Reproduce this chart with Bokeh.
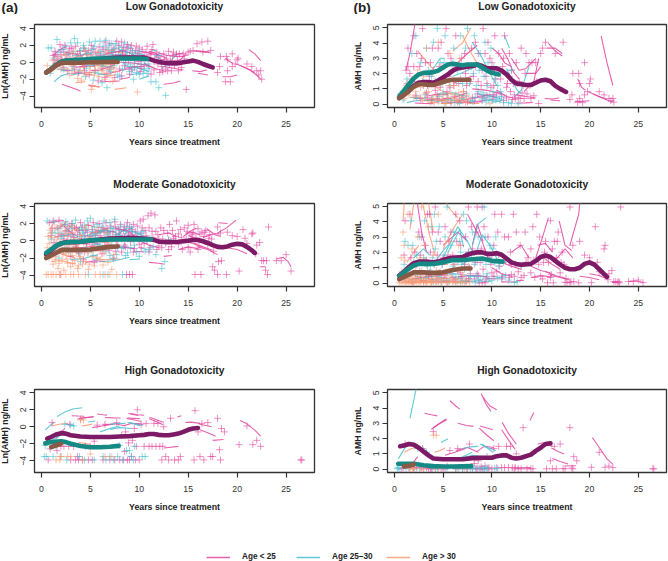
import math
from bokeh.embed import file_html
from bokeh.resources import INLINE
from bokeh.plotting import figure
from bokeh.layouts import column, row
from bokeh.models import FixedTicker, Legend, LegendItem
from bokeh.core.properties import value

PINK = "#e2459f"; CYAN = "#45c0d0"; SALMON = "#fb9a72"
PURPLE = "#7c1a66"; TEAL = "#158a84"; BROWN = "#8b5a47"
AXC = "#333333"
FONT = "Liberation Sans"

X_TICKS = [0, 5, 10, 15, 20, 25]
LN_TICKS = [-4, -2, 0, 2, 4]
AMH_TICKS = [0, 1, 2, 3, 4, 5]
ROW_TITLES = ["Low Gonadotoxicity", "Moderate Gonadotoxicity", "High Gonadotoxicity"]
LEGEND_LABELS = ["Age < 25", "Age 25\u201330", "Age > 30"]

low_young_pts = [(1.2,0.8),(1.3,0.3),(1.4,1.3),(1.5,-0.1),(1.6,0.7),(1.9,2.1),(2.0,1.5),(2.1,0.4),(2.2,-0.6),(2.3,1.2),(2.4,2.0),(2.6,0.9),(2.7,-1.0),(2.9,1.6),(3.0,0.2),(3.2,1.0),(3.3,-0.3),(3.5,1.9),(3.6,0.6),(3.8,-1.2),(3.9,1.3),(4.1,0.3),(4.3,1.7),(4.4,-0.5),(4.6,0.9),(4.8,1.4),(4.9,-1.5),(5.1,2.0),(5.2,0.5),(5.4,-0.2),(5.5,1.2),(5.7,0.1),(5.8,-2.2),(5.9,1.8),(6.0,0.8),(6.2,-0.7),(6.3,1.5),(6.5,2.4),(6.6,0.3),(6.7,-1.3),(6.9,1.1),(7.0,2.2),(7.1,-0.2),(7.3,0.7),(7.4,1.7),(7.5,-1.8),(7.7,2.5),(7.8,0.4),(7.9,1.3),(8.0,-0.8),(8.2,2.4),(8.3,0.9),(8.4,1.8),(8.5,-0.4),(8.6,1.2),(8.8,2.1),(8.9,0.2),(9.0,-1.4),(9.1,1.6),(9.2,2.0),(9.4,0.6),(9.5,-0.6),(9.6,1.4),(9.7,1.9),(9.9,0.1),(10.0,1.0),(10.1,-1.1),(10.3,1.5),(10.4,0.5),(10.5,-0.3),(10.7,1.2),(10.8,1.9),(11.0,-0.5),(11.1,0.9),(11.3,1.5),(11.4,2.1),(11.5,-0.9),(11.6,0.3),(11.8,1.2),(11.9,-0.2),(12.0,0.8),(12.1,-1.2),(12.3,-0.5),(12.4,-1.1),(12.6,0.3),(12.7,-0.8),(12.9,-1.0),(13.0,1.3),(13.1,-0.3),(13.3,-1.0),(13.5,1.2),(13.6,-0.4),(13.8,1.0),(14.0,-1.0),(14.1,1.0),(14.5,1.0),(14.8,-3.2),(15.0,1.2),(15.2,1.3),(15.5,1.4),(15.9,2.2),(16.4,2.4),(16.5,1.2),(17.0,2.5),(17.3,1.4),(18.0,-1.2),(18.2,-0.5),(18.3,0.7),(18.8,-2.3),(18.9,0.7),(19.0,-1.0),(19.0,0.3),(19.3,-2.3),(19.5,-0.5),(19.5,1.0),(19.8,-0.2),(20.0,0.3),(20.1,0.5),(21.0,-0.2),(21.5,-0.5),(22.0,-1.0),(22.2,-1.5),(22.4,-1.0),(22.5,-2.0),
 (1.4,0.9),(1.7,0.2),(2.0,0.9),(2.5,0.3),(2.8,1.1),(3.1,1.7),(3.4,0.2),(3.7,1.0),(4.0,0.8),(4.2,-0.1),(4.5,1.3),(4.7,0.1),(5.0,0.9),(5.3,1.6),(5.6,0.6),(5.8,1.1),(6.1,0.2),(6.4,0.9),(6.6,1.7),(6.8,0.5),(7.2,1.2),(7.4,0.2),(7.6,0.9),(7.9,2.0),(8.1,0.6),(8.3,1.4),(8.6,0.4),(8.7,1.7),(9.0,0.8),(9.3,1.2),(9.5,0.3),(9.8,1.1),(10.0,1.7),(10.2,0.2),(10.5,0.8),(10.9,0.5),(11.2,1.1),(11.5,0.1),(11.8,0.6),(12.2,0.3),(12.5,1.0),(12.8,0.4),(13.2,0.2),(13.4,0.7),(13.9,0.2),(14.3,-0.6),(14.6,0.4),(5.5,-1.0),(6.5,-1.8),(7.0,-0.8),(8.2,-1.6),(9.2,-0.9),(10.2,-0.7),(11.2,-1.4),(3.4,-0.8),(4.4,-1.0)]
low_mid_pts = [(0.7,1.7),(1.0,1.7),(1.6,2.7),(0.9,-1.3),(1.8,1.2),(2.0,0.3),(2.3,-0.8),(2.5,1.9),(2.7,1.0),(3.0,2.3),(3.2,-0.5),(3.4,2.8),(3.5,0.8),(3.7,2.3),(3.9,-1.0),(4.0,1.4),(4.2,0.4),(4.3,2.0),(4.5,-1.7),(4.7,1.0),(4.9,2.4),(5.0,-0.3),(5.2,1.5),(5.3,-2.1),(5.5,2.5),(5.6,0.7),(5.8,-1.3),(6.0,2.5),(6.1,1.3),(6.2,-2.4),(6.4,0.4),(6.6,2.6),(6.8,1.5),(6.9,-0.9),(6.7,-3.0),(7.1,0.9),(7.2,2.2),(7.4,-0.4),(7.5,1.6),(7.7,0.3),(7.8,-1.5),(8.0,1.8),(8.1,0.7),(8.3,-0.8),(8.5,2.3),(8.6,-0.2),(8.8,1.2),(9.0,-1.1),(9.2,0.6),(9.4,-2.0),(9.6,1.0),(9.8,-0.6),(10.0,-1.4),(10.2,0.9),(10.4,-1.3),(10.6,0.2),(10.8,-1.3),(11.0,-0.7),(11.2,-2.3),(11.7,-2.3),(12.0,-3.0),(12.7,-3.9),(12.0,0.8),
 (1.3,0.5),(2.2,1.5),(2.9,0.4),(3.3,1.3),(3.8,0.6),(4.4,1.6),(4.9,0.3),(5.1,1.0),(5.4,1.9),(5.7,0.2),(6.0,1.0),(6.3,1.9),(6.5,0.8),(6.9,2.0),(7.0,0.3),(7.3,1.3),(7.6,2.2),(7.9,0.9),(8.2,1.5),(8.4,0.2),(8.7,0.8),(8.9,1.8),(9.1,-0.3),(9.3,1.4),(9.5,0.2),(9.7,-1.2),(9.9,1.3),(10.1,-0.2),(10.3,0.5),(10.5,-0.8),(10.9,-0.2),(4.6,-0.7),(5.4,-1.2),(6.3,-0.5),(7.1,-1.1),(8.0,-1.7),(9.3,-0.8)]
low_old_pts = [(0.6,-0.4),(1.0,-1.0),(1.5,-0.5),(1.8,0.5),(2.0,-0.8),(2.4,0.8),(2.6,-0.8),(2.9,-1.5),(3.0,0.6),(3.3,1.3),(3.5,-0.2),(3.7,-1.9),(3.9,0.7),(4.1,-2.1),(4.3,-0.6),(4.5,1.4),(4.7,0.3),(4.9,-1.2),(5.1,-3.2),(5.2,-2.8),(5.3,0.6),(5.5,-0.9),(5.7,1.2),(5.9,-1.7),(6.1,0.2),(6.3,-0.6),(6.5,-2.0),(6.7,1.1),(6.9,-0.8),(7.1,-0.2),(7.3,-2.2),(7.5,0.4),(7.6,-1.1),(9.8,-3.5),(2.2,-0.2),(3.1,-0.4),(4.0,-1.0),(4.8,0.9),(5.6,0.2),(6.4,-1.3),
 (1.2,0.2),(2.7,0.1),(3.4,-1.1),(4.2,0.2),(4.6,-1.4),(5.0,-0.5),(5.4,-1.5),(5.8,-0.4),(6.2,-1.0),(6.6,-0.3),(7.0,-1.5),(7.4,-0.6)]
mod_young_pts = [(0.8,2.1),(1.0,0.6),(1.2,2.3),(1.4,-0.8),(1.6,1.5),(1.8,2.4),(1.9,-3.9),(2.1,0.7),(2.2,-1.2),(2.4,1.9),(2.6,-0.3),(2.8,1.1),(3.0,-1.8),(3.1,2.0),(3.3,0.4),(3.5,-0.7),(3.6,1.5),(3.8,-1.4),(4.0,2.1),(4.1,0.2),(4.3,-2.2),(4.5,1.2),(4.6,-0.4),(4.8,1.8),(5.0,0.5),(5.1,-1.0),(5.3,2.1),(5.4,-2.5),(5.6,1.0),(5.7,-0.3),(5.9,2.0),(6.0,0.6),(6.2,-1.5),(6.3,1.5),(6.5,-0.2),(6.6,2.1),(6.8,0.9),(6.9,-1.1),(7.1,1.7),(7.2,0.2),(7.4,-2.0),(7.5,2.2),(7.6,0.7),(7.8,-0.5),(7.9,1.3),(8.1,1.9),(8.2,-1.3),(8.3,0.3),(8.5,1.6),(8.6,-0.7),(8.7,-3.9),(8.8,2.1),(8.9,0.8),(9.0,-3.9),(9.1,-0.1),(9.2,1.3),(9.3,-3.9),(9.4,1.9),(9.5,-0.9),(9.7,0.5),(9.8,1.7),(10.0,-0.4),(10.1,2.3),(10.2,0.9),(10.4,2.5),(10.5,-0.3),(10.7,0.6),(10.9,2.9),(11.0,1.5),(11.1,-0.8),(11.2,3.2),(11.4,0.4),(11.6,3.0),(11.7,1.1),(11.8,-1.0),(12.0,0.2),(12.2,1.5),(12.3,-0.8),(12.5,1.2),(12.7,-0.3),(12.9,0.9),(13.1,1.9),(13.3,-0.7),(13.5,0.3),(13.8,2.3),(14.0,0.8),(14.2,1.3),(14.4,-1.0),(14.6,1.5),(14.8,0.2),(15.0,1.8),(15.2,-1.3),(15.4,0.7),(15.6,1.9),(15.7,-3.9),(15.8,0.3),(16.0,1.4),(16.1,-0.6),(16.3,-3.9),(16.4,1.0),(16.6,0.5),(16.8,1.2),(17.0,-0.4),(17.2,0.7),(17.4,0.2),(17.5,-3.0),(17.6,-1.2),(17.7,-3.4),(18.0,-3.9),(18.1,-2.4),(18.3,0.9),(18.4,-2.3),(18.9,-3.9),(19.0,1.0),(19.5,0.6),(20.0,0.5),(20.2,-3.5),(20.6,1.3),(20.8,0.3),(21.0,-0.3),(21.5,0.8),(21.6,0.9),(21.9,-1.5),(22.0,-0.5),(22.3,-0.2),(22.5,-2.3),(22.7,-2.3),(22.9,-3.4),(23.0,-2.3),(23.1,-3.9),(23.2,1.6),(24.0,-2.3),(24.5,-2.3),(25.0,-1.6),(25.5,-3.5),
 (1.1,1.4),(1.3,-0.2),(1.7,0.5),(2.0,1.7),(2.3,0.2),(2.5,1.2),(2.7,0.6),(2.9,1.7),(3.2,0.9),(3.4,1.5),(3.7,0.7),(3.9,1.2),(4.2,1.6),(4.4,0.6),(4.7,1.0),(4.9,0.2),(5.2,1.3),(5.5,0.6),(5.8,1.2),(6.1,0.2),(6.4,1.0),(6.7,1.4),(7.0,0.4),(7.3,1.1),(7.6,1.6),(7.7,0.0),(8.0,0.8),(8.4,1.2),(8.8,0.3),(9.0,1.6),(9.3,0.7),(9.6,1.1),(9.9,0.2),(10.3,1.5),(10.6,1.2),(10.8,0.1),(11.3,1.1),(11.9,0.7),(12.4,0.2),(13.0,0.1),(13.4,1.2),(13.7,0.5),(14.3,0.4),(14.9,1.1),(15.3,0.3),(15.5,1.0),(16.2,0.8),(16.7,1.0),(17.1,0.3),(18.0,1.6),(2.7,-1.0),(3.6,-0.4),(4.4,-1.3),(5.2,-0.5),(6.0,-1.0),(6.8,-0.4),(7.6,-1.2),(8.5,-0.5),(9.4,-1.3),(10.2,-0.8),(11.0,-1.3),(12.0,-0.6),(13.0,-1.0),(14.0,-0.4),(15.0,-0.8),(16.0,-1.0)]
mod_mid_pts = [(0.6,2.3),(0.9,-1.5),(1.1,1.0),(1.3,2.2),(1.5,-0.4),(1.7,1.4),(1.8,-2.0),(2.0,0.3),(2.2,1.8),(2.4,-0.8),(2.6,1.1),(2.8,-1.3),(3.0,0.5),(3.2,2.0),(3.5,2.4),(3.7,-0.2),(3.8,1.3),(4.0,-2.4),(4.2,0.8),(4.4,1.8),(4.6,-0.9),(4.7,2.3),(4.8,-3.9),(4.9,0.2),(5.0,2.6),(5.2,1.1),(5.3,-1.7),(5.5,0.4),(5.7,1.9),(5.9,-0.6),(6.1,1.2),(6.3,-3.9),(6.4,2.3),(6.6,-1.2),(6.8,0.7),(6.8,-3.9),(7.0,2.1),(7.2,-0.1),(7.4,1.4),(7.5,2.5),(7.7,-1.6),(7.9,0.6),(8.1,1.7),(8.3,-3.9),(8.4,-0.7),(8.6,1.1),(8.8,-1.4),(9.0,0.4),(9.2,1.6),(9.5,-0.5),(9.8,0.9),(10.0,-1.8),(10.3,0.3),(10.6,-1.2),(11.0,-1.0),(11.4,-0.7),(11.7,-1.6),(12.3,-3.2),(12.6,-2.4),(13.0,0.1),(1.0,0.2),(2.5,2.2),(3.3,-1.0),(4.3,1.0),(5.4,-0.4),(6.5,0.3),(7.3,-2.1),(8.2,0.2),(9.1,-0.8),(10.1,0.8),
 (1.4,0.9),(1.9,0.9),(2.3,0.6),(2.7,1.7),(3.1,1.4),(3.4,0.1),(3.9,0.5),(4.1,1.5),(4.5,0.3),(4.6,1.3),(5.1,0.6),(5.4,1.6),(5.8,0.9),(6.0,0.1),(6.2,1.7),(6.7,1.0),(6.9,0.2),(7.1,1.5),(7.6,0.7),(8.0,1.2),(8.5,0.4),(8.7,1.7),(9.3,1.1),(9.4,0.2),(9.9,0.4),(10.4,1.1),(10.7,0.1),(11.2,0.3),(3.9,-1.5),(4.8,-1.3),(5.6,-2.2),(6.3,-0.9),(7.0,-1.7),(7.8,-0.8),(8.6,-1.7),(9.7,-1.3)]
mod_old_pts = [(0.5,-3.9),(0.7,-3.9),(1.0,-3.9),(1.2,-3.9),(1.5,-3.9),(1.9,-3.9),(2.0,-3.9),(2.5,-3.9),(3.0,-3.9),(3.3,-3.9),(3.8,-3.9),(4.5,-3.9),(5.5,-3.9),(6.0,-3.9),(6.5,-3.9),(7.0,-3.9),(7.7,-3.9),(0.6,-0.8),(0.7,0.5),(0.8,-2.0),(0.9,1.2),(1.0,-1.3),(1.1,0.4),(1.2,-2.7),(1.3,-0.5),(1.4,1.5),(1.5,-1.8),(1.6,0.1),(1.7,-3.2),(1.8,0.8),(1.9,-1.1),(2.0,1.8),(2.1,-2.2),(2.2,-0.2),(2.3,-3.4),(2.4,1.1),(2.5,-1.5),(2.6,0.5),(2.7,-2.6),(2.8,1.6),(2.9,-0.6),(3.0,-3.0),(3.1,0.9),(3.2,-1.7),(3.3,0.2),(3.4,-2.3),(3.5,1.3),(3.7,-3.2),(3.8,-0.4),(3.9,-1.8),(4.0,0.6),(4.2,-2.7),(4.4,-1.1),(4.5,1.5),(4.7,-0.3),(4.8,-3.3),(5.0,0.4),(5.2,-1.8),(5.4,-2.9),(5.6,1.0),(5.8,-0.9),(6.0,-2.2),(6.2,0.2),(6.4,-1.4),(6.6,0.9),(6.8,-2.5),(7.0,-0.6),(7.2,-3.3),(7.4,-1.6),(7.6,0.1),
 (0.8,-0.3),(1.0,0.9),(1.2,-1.6),(1.4,-2.2),(1.6,-0.9),(1.8,-2.6),(2.0,-0.4),(2.2,-1.5),(2.4,-0.9),(2.6,-2.1),(2.8,-0.2),(3.0,-1.3),(3.2,-2.6),(3.4,-0.5),(3.6,-1.2),(3.8,-2.9),(4.0,-2.0),(4.3,-0.2),(4.5,-2.4),(4.7,-1.4),(4.9,-2.7),(5.3,-0.7),(5.7,-1.9),(6.3,-2.8),(6.7,-0.2),(7.3,0.5)]
high_young_pts = [(0.7,-3.9),(0.9,-2.6),(1.1,0.5),(1.6,-2.8),(2.0,-2.3),(2.3,-2.3),(2.8,-2.3),(2.9,0.3),(3.0,-3.9),(3.3,-2.3),(3.5,-3.9),(3.7,-3.5),(3.8,-3.9),(4.0,0.9),(4.2,-3.9),(4.5,-2.3),(4.8,-3.9),(5.0,-2.3),(5.2,-3.9),(5.4,-1.7),(5.7,0.2),(6.3,-3.9),(6.5,0.3),(7.0,-3.9),(7.5,-3.9),(7.7,0.5),(8.0,-3.9),(8.2,-1.0),(8.4,-3.9),(8.5,-2.9),(8.6,-0.6),(8.8,-3.9),(8.9,-1.9),(9.0,-3.9),(9.2,-3.5),(9.3,-1.6),(9.5,-0.2),(9.7,-2.3),(9.6,-3.9),(9.8,2.0),(10.0,-3.9),(10.2,0.3),(10.5,-2.3),(10.7,0.4),(11.0,-2.3),(11.3,-2.3),(11.5,0.4),(11.7,-2.3),(11.9,0.4),(12.1,-2.3),(12.3,-3.9),(12.4,-2.3),(12.5,0.0),(12.7,-3.5),(13.0,-3.9),(13.2,1.0),(13.6,-3.9),(14.0,-3.9),(14.2,-3.5),(15.6,-3.9),(15.7,1.9),(16.0,-0.6),(16.2,-3.5),(16.4,0.4),(16.6,-3.9),(17.0,0.5),(17.3,-3.5),(17.5,-3.5),(18.0,1.0),(18.2,-2.7),(18.3,-3.9),(18.4,-0.2),(18.7,-0.6),(20.2,-2.1),(21.0,0.1),(21.6,-2.1),(22.0,-1.6),(22.4,-2.3),(26.5,-3.9),(26.6,-3.9)]
high_mid_pts = [(0.3,-3.5),(0.5,-3.5),(0.4,-2.2),(1.2,-3.5),(1.5,-2.3),(2.0,-3.5),(2.6,-3.9),(2.4,0.3),(3.0,0.2),(3.3,0.1),(3.9,-3.5),(4.4,-3.9),(5.4,-3.9),(6.3,-3.5),(6.6,-3.9),(7.0,-3.5),(7.4,-3.9),(7.8,-3.5),(8.0,-2.2),(8.3,-3.9),(8.7,-2.8),(9.0,-2.8),(9.2,-3.5),(9.4,-3.9),(9.5,-2.3),(10.3,-3.5),(10.6,-3.5)]
high_old_pts = [(1.5,-3.9),(1.9,-3.9),(1.9,-3.5),(2.0,-3.5),(2.7,-3.5),(3.0,-3.5),(4.0,0.8),(4.2,-3.9),(4.3,0.8),(5.0,-3.2),(6.5,-3.5),(7.2,-3.5)]

# ---- individual fitted trajectories (ln AMH)
low_young_lines = [[(1.2,0.8),(1.6,1.2),(2.1,1.65),(2.6,1.85)],[(2.1,-2.6),(3.0,-2.95),(4.0,-3.4)],[(21.2,1.5),(21.8,1.0),(22.4,0.2)],[(20.4,-0.4),(21.3,-0.9),(22.0,-1.5),(22.4,-2.0)],[(19.9,-0.2),(20.8,-0.6),(21.8,-1.2)],[(15.4,-1.0),(16.2,-1.1),(16.9,-0.9)],[(12.5,-2.6),(13.5,-2.45),(14.2,-2.2)],[(18.5,-1.7),(19.3,-1.7),(20.0,-1.5)],[(15.6,1.3),(16.5,1.3),(17.2,1.2)],[(15.8,1.38),(16.5,1.25),(17.2,1.15)],[(6.0,-2.2),(7.0,-2.3),(8.0,-2.2)],[(8.0,-2.0),(9.0,-1.8)],[(4.8,-2.7),(5.9,-2.9)],[(10.0,1.3),(10.7,1.2),(11.3,1.0),(12.0,0.9)],[(11.0,1.3),(11.6,1.1),(12.2,0.75),(12.8,0.5)],[(12.0,1.1),(12.8,0.8),(13.5,0.85),(14.5,1.1)],[(13.3,-0.2),(14.3,0.4),(14.8,1.1)],[(13.5,0.7),(14.5,0.7),(15.0,0.9)],[(6.5,1.0),(7.5,1.2),(8.5,1.35)],[(8.5,-0.7),(9.5,-0.5),(10.5,-0.5)],[(16.0,-1.3),(17.0,-1.5)],[(7.0,-1.3),(8.0,-1.0),(9.2,-0.7)],[(3.0,-1.3),(4.0,-1.3),(5.2,-1.2)],[(10.5,-0.1),(11.5,-0.7),(12.5,-1.0)],[(18.8,0.5),(19.2,0.1),(19.6,-0.1)],[(3.5,-0.6),(4.5,-0.4),(5.5,-0.5)],[(5.0,-1.0),(6.0,-0.9),(7.5,-0.3)],[(8.0,0.0),(9.5,-0.1),(11.0,-0.4)],[(12.5,-0.5),(13.5,-0.7),(14.5,-0.9)],[(6.0,0.3),(7.0,0.5),(8.0,0.6)]]
low_mid_lines = [[(1.3,-2.3),(2.0,-1.6),(2.9,-1.3)],[(10.0,-2.0),(11.0,-1.6)],[(4.0,0.85),(4.7,1.1),(5.2,1.1)],[(11.3,1.5),(11.8,1.3)],[(11.5,0.85),(12.1,0.4),(12.6,-0.1),(13.0,-0.4)],[(12.3,-0.7),(13.0,-0.1),(13.8,0.9)],[(8.0,1.4),(8.9,1.15),(9.8,0.7),(10.5,0.2)],[(3.0,-1.5),(4.2,-1.3)],[(5.8,-1.4),(7.0,-1.5)],[(6.0,0.6),(7.2,0.75),(8.4,0.9)],[(1.6,-0.8),(2.6,-0.9)],[(9.0,-1.5),(10.0,-1.3)],[(2.0,-1.0),(3.5,-0.9)],[(4.5,-0.5),(6.0,-0.3),(7.5,-0.7)],[(8.5,-0.4),(10.0,-0.7),(11.0,-1.1)]]
low_old_lines = [[(3.5,-2.4),(4.5,-2.3)],[(7.5,-3.2),(8.7,-3.0)],[(5.0,-2.8),(6.0,-2.9)],[(2.4,1.25),(3.2,1.05),(4.0,0.83)],[(6.0,1.25),(7.0,1.39),(7.8,1.6)],[(7.0,1.5),(7.9,1.2),(8.7,0.9)],[(4.0,0.2),(5.0,-0.2),(6.0,-0.4)],[(4.2,-1.5),(5.2,-1.4)],[(6.5,-1.7),(7.5,-1.5)]]
mod_young_lines = [[(0.8,2.1),(1.4,2.2),(2.3,2.35)],[(2.3,1.7),(2.8,1.2),(3.3,0.7)],[(7.5,1.5),(8.2,1.3),(9.0,1.0),(9.6,0.5)],[(14.5,0.5),(15.2,1.1),(15.8,1.45)],[(16.9,1.4),(17.5,0.9),(18.2,0.75)],[(18.1,2.1),(19.0,2.0)],[(18.0,0.9),(18.9,1.5),(19.9,2.4)],[(14.7,0.9),(15.5,0.95),(16.2,0.7)],[(15.0,0.6),(16.0,0.25),(17.0,-0.1)],[(15.5,-0.3),(16.5,-0.7),(17.5,-1.1)],[(16.0,-0.7),(17.0,-1.0),(18.0,-1.6)],[(14.0,-1.0),(15.0,-0.7),(16.0,-0.9)],[(19.0,-0.8),(20.0,-1.0),(21.0,-1.5)],[(20.0,-0.5),(21.0,-0.7),(21.7,-1.2)],[(24.0,-2.1),(24.7,-1.9),(25.2,-2.4),(25.5,-3.0)],[(22.3,-3.0),(22.9,-3.0)],[(11.0,-2.5),(12.0,-2.6),(12.5,-2.7)],[(12.0,0.7),(13.0,0.9),(13.8,0.5)],[(8.0,0.9),(8.5,1.35),(9.1,1.0)],[(4.5,-2.5),(5.5,-2.3),(6.5,-2.4)],[(10.0,0.0),(11.0,-0.5),(12.0,-0.8)],[(16.5,0.4),(17.5,0.8),(18.3,0.5)],[(12.5,-1.8),(13.3,-1.7)],[(9.5,-1.2),(10.5,-1.3)],[(3.0,-0.9),(4.0,-0.8),(5.5,-0.6)],[(6.5,-0.9),(8.0,-0.7),(9.5,-0.9)],[(11.0,0.3),(12.0,0.1),(13.0,-0.1)],[(14.0,0.1),(15.0,-0.2),(16.0,-0.4)],[(5.0,0.9),(6.5,1.2),(7.5,1.0)]]
mod_mid_lines = [[(5.5,0.7),(6.2,1.05),(6.7,1.25),(7.1,0.85)],[(5.0,0.5),(5.8,1.0),(6.5,1.3)],[(8.0,0.9),(8.6,1.35),(9.4,1.45)],[(8.4,0.7),(9.0,1.15),(9.8,0.9),(10.6,0.4)],[(6.5,1.3),(7.5,1.0),(8.2,0.6)],[(4.3,0.4),(5.0,0.75),(5.5,0.9)],[(2.0,0.5),(3.0,0.8),(3.6,0.6)],[(10.0,-0.8),(10.8,-1.0)],[(3.0,-2.2),(4.5,-2.0),(5.8,-1.6)],[(6.0,-2.4),(7.5,-2.3),(9.0,-1.9)],[(9.0,-2.2),(10.0,-2.1)],[(7.0,0.2),(8.0,0.5),(9.2,0.4)],[(1.5,-1.5),(3.0,-1.0),(4.5,-0.8)],[(5.5,-0.4),(7.0,-0.6),(8.5,-0.9)]]
mod_old_lines = [[(0.9,1.4),(1.2,1.95),(1.5,2.4)],[(1.6,1.25),(2.2,1.8),(2.7,2.3)],[(3.0,2.0),(3.5,1.65),(4.0,1.2)],[(2.8,1.7),(3.6,1.15),(4.2,0.6)],[(4.5,1.9),(5.5,1.6),(6.5,1.45)],[(5.0,0.8),(6.0,1.25),(7.0,1.5)],[(1.0,-2.4),(2.0,-2.3),(3.5,-2.7)],[(2.0,-0.7),(3.0,-1.1),(4.0,-1.5)],[(3.0,0.5),(4.2,0.2),(5.5,0.2)],[(5.5,-2.0),(6.5,-2.2),(8.0,-2.1)],[(1.3,0.3),(2.0,0.7),(2.5,0.9)],[(1.0,-1.0),(2.2,-1.6),(3.5,-2.0)],[(3.5,-0.7),(5.0,-1.2),(6.5,-1.1)]]
high_young_lines = [[(3.1,1.3),(3.8,1.27),(4.4,1.25)],[(4.0,1.0),(4.7,1.1),(5.4,1.18)],[(5.7,1.5),(6.3,1.42),(6.7,1.37)],[(6.5,1.1),(7.4,1.05),(8.1,1.03)],[(8.9,1.6),(9.4,1.45),(9.9,1.33)],[(9.1,1.55),(9.8,1.42),(10.5,1.36)],[(8.8,1.04),(9.5,0.99),(10.1,0.95)],[(8.7,0.99),(9.4,0.82),(10.2,0.62)],[(11.05,1.12),(11.7,0.85),(12.5,0.5)],[(11.0,0.95),(11.8,0.6),(12.4,0.25)],[(13.9,1.16),(14.3,1.31)],[(20.3,0.73),(21.0,0.35),(21.8,-0.4),(22.4,-1.1)],[(16.1,0.33),(16.8,0.15),(17.4,0.0)],[(16.2,-0.36),(17.0,-0.7),(17.8,-1.1)],[(17.5,-1.6),(18.6,-1.5)],[(12.5,-2.5),(14.0,-2.3)],[(14.7,0.5),(15.3,0.55),(16.2,0.4)],[(3.8,0.96),(4.5,1.08),(5.3,1.19)],[(1.5,-1.4),(2.0,-0.7),(2.4,-0.2)],[(5.2,-0.1),(6.2,0.1),(7.3,0.3)],[(6.3,0.2),(7.5,0.35),(8.6,0.1)],[(8.5,0.15),(9.2,0.4),(10.2,0.35)]]
high_mid_lines = [[(1.6,1.2),(2.4,1.75),(3.2,2.1),(4.2,2.25)],[(0.4,-0.4),(0.9,0.18),(1.3,0.5)],[(4.8,0.56),(5.5,0.69)],[(6.0,-0.6),(7.0,-0.2),(8.0,0.1)],[(7.0,0.3),(7.8,0.38),(8.6,0.4)],[(9.0,0.5),(9.6,0.3),(10.1,0.1)],[(8.8,0.5),(9.5,0.35),(10.4,0.2)],[(2.5,0.3),(3.4,0.1)],[(7.0,-0.3),(8.0,-0.1),(9.2,-0.2)],[(1.1,-1.6),(2.1,-0.9)]]
high_old_lines = [[(1.0,0.1),(1.8,0.3),(2.7,0.4)],[(4.1,0.1),(4.7,0.2),(5.2,0.33)],[(3.8,-1.85),(4.4,-1.95),(5.0,-2.05)]]

# ---- group mean curves
low_ln_means = [
 [(0.5,-1.2),(1,-0.8),(1.5,-0.3),(2,0.05),(2.5,0.2),(3,0.2),(4,0.2),(5,0.3),(6,0.4),(7,0.5),(8,0.55),(9,0.55),(10,0.55),(10.5,0.55),(11,0.4),(11.5,0.2),(12,0.05),(12.5,-0.05),(13,-0.1),(14,-0.1),(14.5,0),(15,0.1),(15.5,0.2),(16,0.05),(16.5,-0.2),(17,-0.4),(17.5,-0.6)],
 [(0.5,-1.2),(1,-0.8),(1.5,-0.3),(2,0.05),(2.5,0.2),(3,0.25),(4,0.3),(5,0.4),(6,0.45),(7,0.45),(8,0.45),(9,0.45),(10,0.45),(10.8,0.4)],
 [(0.5,-1.2),(1,-0.85),(1.5,-0.4),(2,-0.1),(2.5,-0.05),(3,-0.05),(4,-0.05),(5,0),(6,0),(7,0.05),(7.8,0.05)]]
low_amh_means = [
 [(0.5,0.4),(1,0.65),(1.5,0.95),(2,1.2),(2.5,1.4),(3,1.45),(3.5,1.45),(4,1.4),(4.5,1.55),(5,1.75),(5.5,1.95),(6,2.2),(6.5,2.35),(7,2.4),(7.5,2.45),(8,2.5),(8.5,2.6),(9,2.5),(9.5,2.35),(10,2.35),(10.5,2.35),(11,2.2),(11.5,1.95),(12,1.6),(12.5,1.35),(13,1.3),(13.5,1.25),(14,1.25),(14.5,1.4),(15,1.55),(15.5,1.6),(16,1.5),(16.5,1.2),(17,1.0),(17.6,0.8)],
 [(0.5,0.5),(1,0.9),(1.5,1.3),(2,1.7),(2.5,1.95),(3,2.05),(3.5,2.05),(4,2.1),(4.5,2.2),(5,2.4),(5.5,2.6),(6,2.65),(6.5,2.6),(7,2.55),(7.5,2.6),(8,2.6),(8.5,2.6),(9,2.4),(9.5,2.2),(10,2.05),(10.7,1.95)],
 [(0.5,0.4),(1,0.6),(1.5,0.85),(2,1.15),(2.5,1.3),(3,1.3),(3.5,1.25),(4,1.25),(4.5,1.35),(5,1.45),(5.5,1.55),(6,1.6),(6.5,1.6),(7,1.6),(7.7,1.6)]]
mod_ln_means = [
 [(0.5,-1.6),(1,-1.1),(1.5,-0.6),(2,-0.3),(2.5,-0.15),(3,-0.15),(4,-0.1),(5,0),(6,0.15),(7,0.25),(8,0.3),(9,0.35),(10,0.3),(11,0.2),(11.5,0.1),(12,-0.1),(13,-0.15),(14,-0.1),(15,0),(15.5,0.1),(16,0.1),(16.5,-0.05),(17,-0.25),(17.5,-0.5),(18,-0.7),(18.5,-0.75),(19,-0.65),(19.5,-0.45),(20,-0.35),(20.5,-0.4),(21,-0.7),(21.5,-1.1),(21.8,-1.4)],
 [(0.5,-1.4),(1,-1),(1.5,-0.6),(2,-0.3),(2.5,-0.2),(3,-0.15),(4,-0.1),(5,0.05),(6,0.1),(7,0.15),(8,0.15),(9,0.15),(10,0.15),(11.2,0.15)],
 [(0.5,-2),(1,-1.7),(1.5,-1.4),(2,-1.1),(2.5,-1.05),(3,-1.05),(4,-1.05),(5,-1),(6,-0.85),(7,-0.7),(7.8,-0.65)]]
mod_amh_means = [
 [(0.5,0.5),(1,0.75),(1.5,1.05),(2,1.3),(2.5,1.4),(3,1.4),(4,1.35),(4.5,1.4),(5,1.5),(5.5,1.6),(6,1.65),(7,1.7),(7.5,1.85),(8,1.95),(8.5,2),(9,2),(9.5,1.9),(10,1.9),(10.5,1.95),(11,1.85),(11.5,1.6),(12,1.35),(12.5,1.25),(13,1.2),(14,1.25),(14.5,1.45),(15,1.7),(15.5,1.8),(16,1.7),(16.5,1.45),(17,1.2),(17.5,1),(18,0.9),(18.5,0.9),(19,1.0),(19.5,1.25),(20,1.35),(20.5,1.2),(21,0.9),(21.8,0.4)],
 [(0.5,0.45),(1,0.7),(1.5,0.95),(2,1.15),(2.5,1.25),(3,1.25),(4,1.25),(5,1.35),(6,1.5),(7,1.5),(8,1.55),(9,1.6),(10,1.45),(11.1,1.4)],
 [(0.5,0.25),(1,0.4),(1.5,0.55),(2,0.7),(3,0.7),(4,0.65),(5,0.7),(6,0.85),(7,0.95),(7.8,0.95)]]
high_ln_means = [
 [(0.6,-1.4),(1,-1.2),(1.5,-0.9),(2,-0.75),(2.5,-0.8),(3,-1),(4,-1.15),(5,-1.2),(6,-1.2),(7,-1.2),(8,-1.15),(9,-1.1),(10,-1),(10.5,-0.95),(11,-0.85),(11.5,-0.85),(12,-0.95),(12.5,-1),(13,-1),(13.5,-0.9),(14,-0.8),(14.5,-0.6),(15,-0.35),(15.5,-0.2),(16,-0.15)],
 [(0.4,-1.95),(1,-1.8),(2,-1.7),(2.5,-1.8),(3,-2),(4,-2.25),(5,-2.4),(6,-2.4),(7,-2.35),(7.9,-2.25)],
 [(1,-2.4),(1.5,-2.2),(2,-2)]]
high_amh_means = [
 [(0.6,1.5),(1,1.55),(1.5,1.65),(2,1.6),(2.5,1.4),(3,1.15),(3.5,0.9),(4,0.7),(5,0.65),(6,0.65),(7,0.65),(8,0.72),(9,0.75),(10,0.75),(10.5,0.85),(11,0.9),(11.5,0.9),(12,0.75),(12.5,0.7),(13,0.75),(14,0.95),(14.5,1.2),(15,1.4),(15.5,1.65),(16,1.7)],
 [(0.4,0.35),(1,0.35),(2,0.35),(3,0.25),(4,0.2),(5,0.17),(6,0.17),(7,0.18),(7.9,0.2)],
 [(1,0.18),(1.5,0.22),(2,0.3)]]

ROWS = [
 dict(title=ROW_TITLES[0], pts=[low_young_pts, low_mid_pts, low_old_pts], lines=[low_young_lines, low_mid_lines, low_old_lines], ln=low_ln_means, amh=low_amh_means,
      top=10, height=163, lny=(-5.34, 4.47), amhy=(-0.22, 5.22)),
 dict(title=ROW_TITLES[1], pts=[mod_young_pts, mod_mid_pts, mod_old_pts], lines=[mod_young_lines, mod_mid_lines, mod_old_lines], ln=mod_ln_means, amh=mod_amh_means,
      top=12, height=172, lny=(-5.29, 4.32), amhy=(-0.22, 5.18)),
 dict(title=ROW_TITLES[2], pts=[high_young_pts, high_mid_pts, high_old_pts], lines=[high_young_lines, high_mid_lines, high_old_lines], ln=high_ln_means, amh=high_amh_means,
      top=12, height=154, lny=(-5.38, 4.39), amhy=(-0.22, 5.22)),
]
COLORS = [PINK, CYAN, SALMON]
MEAN_COLORS = [PURPLE, TEAL, BROWN]
XR = (-0.7, 27.9)
FRAME_H = 83
HEADER_H = 14
SHIFT = 6  # the left column starts this far off the page so the frames sit where the reference has them


def bare(width, height, xr, yr):
    f = figure(width=width, height=height, x_range=xr, y_range=yr, output_backend="svg", toolbar_location=None,
               min_border_left=0, min_border_right=0, min_border_top=0, min_border_bottom=0)
    f.axis.visible = False
    f.grid.visible = False
    f.outline_line_color = None
    return f


def header(title, tags=False):
    f = bare(668 + SHIFT, HEADER_H, (-SHIFT, 668), (HEADER_H, 0))
    f.text([174, 526.5], [HEADER_H / 2 - (1 if tags else 0)] * 2, text=[title, title], text_align="center",
           text_baseline="middle", text_font=value(FONT), text_font_size="10.2px",
           text_font_style="bold", text_color="#222222")
    if tags:
        f.text([1, 353], [7, 7], text=["(a)", "(b)"], text_align="left", text_baseline="middle",
               text_font=value(FONT), text_font_size="13.5px", text_font_style="bold", text_color="#222222")
    return f


def panel(cfg, kind):
    left = kind == "ln"
    yr = cfg["lny"] if left else cfg["amhy"]
    f = figure(width=334 + SHIFT if left else 334, height=cfg["height"], x_range=XR, y_range=yr,
               output_backend="svg", toolbar_location=None,
               min_border_left=34 + SHIFT if left else 53, min_border_right=20 if left else 2,
               min_border_top=cfg["top"], min_border_bottom=cfg["height"] - cfg["top"] - FRAME_H)
    f.grid.visible = False
    f.outline_line_color = AXC
    f.outline_line_width = 1.3
    conv = (lambda v: v) if left else math.exp
    for i, pts in enumerate(cfg["pts"]):
        for ln in cfg["lines"][i]:
            f.line([a for a, _ in ln], [conv(b) for _, b in ln], line_color=COLORS[i], line_width=1.1, line_alpha=0.85)
    for i, pts in enumerate(cfg["pts"]):
        f.scatter([a for a, _ in pts], [conv(b) for _, b in pts], marker="cross", size=7,
                  line_color=COLORS[i], line_width=0.9, line_alpha=0.65)
    for i, m in enumerate(cfg[kind]):
        f.line([a for a, _ in m], [b for _, b in m], line_color=MEAN_COLORS[i], line_width=4.6,
               line_cap="round", line_join="round")
    f.xaxis.ticker = FixedTicker(ticks=X_TICKS)
    f.yaxis.ticker = FixedTicker(ticks=LN_TICKS if left else AMH_TICKS)
    f.xaxis.axis_label = "Years since treatment"
    f.yaxis.axis_label = "Ln(AMH) ng/mL" if left else "AMH ng/mL"
    for ax in (f.xaxis[0], f.yaxis[0]):
        ax.axis_line_color = None
        ax.major_tick_line_color = AXC
        ax.major_tick_line_width = 1.2
        ax.major_tick_in = 0
        ax.major_tick_out = 5
        ax.minor_tick_line_color = None
        ax.major_label_text_font = FONT
        ax.major_label_text_font_size = "8.7px"
        ax.major_label_text_color = "#333333"
        ax.axis_label_text_font = FONT
        ax.axis_label_text_font_size = "8.8px"
        ax.axis_label_text_font_style = "bold"
        ax.axis_label_text_color = "#222222"
    f.xaxis[0].major_label_standoff = 8
    f.xaxis[0].axis_label_standoff = 7
    f.yaxis[0].major_label_orientation = "vertical"
    f.yaxis[0].major_label_standoff = 3
    f.yaxis[0].axis_label_standoff = 8
    return f


rows = []
for n, cfg in enumerate(ROWS):
    rows.append(header(cfg["title"], tags=n == 0))
    rows.append(row(panel(cfg, "ln"), panel(cfg, "amh"), spacing=0))

lg = bare(668 + SHIFT, 30, (100, 101), (0, 1))
for label, color, src, px in zip(LEGEND_LABELS, COLORS, [low_young_lines[0], low_mid_lines[0], low_old_lines[0]], [206, 296, 386]):
    r = lg.line([a for a, _ in src], [b for _, b in src], line_color=color, line_width=1.5, line_alpha=0.85)
    leg = Legend(items=[LegendItem(label=label, renderers=[r])], location=(px + SHIFT, 0), border_line_color=None,
                 background_fill_alpha=0, glyph_width=24, glyph_height=8, label_standoff=12,
                 label_text_font=FONT, label_text_font_size="8.2px", label_text_font_style="bold",
                 label_text_color="#222222", padding=0, margin=0)
    lg.add_layout(leg, "center")

page = column(*rows, lg, spacing=0, styles={"position": "absolute", "left": f"-{SHIFT}px", "top": "0px"})
open("out.html", "w").write(file_html(page, INLINE))
